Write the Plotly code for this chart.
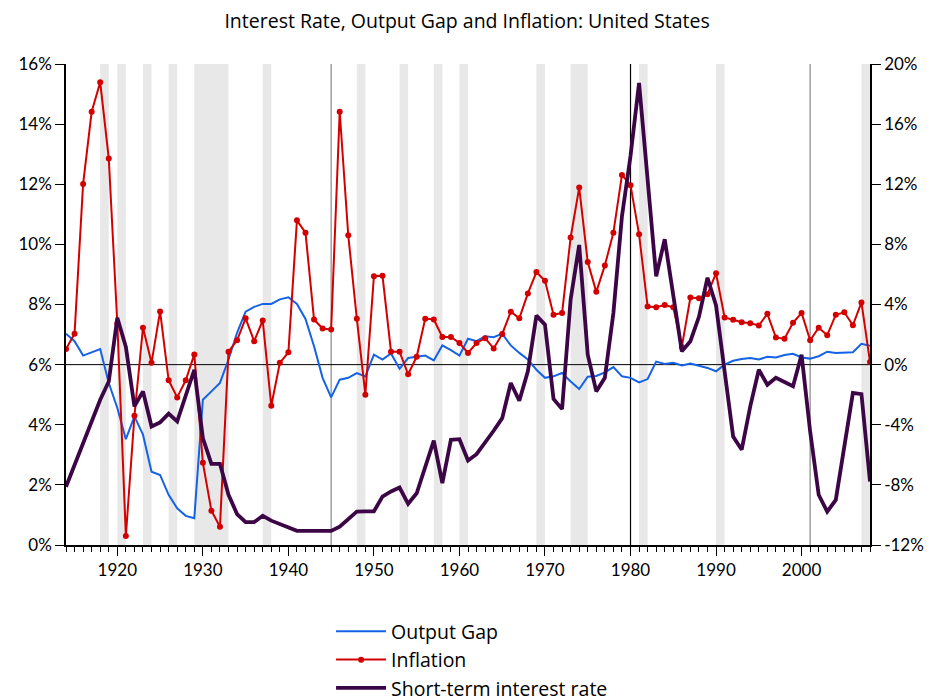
import plotly.graph_objects as go

years = list(range(1914, 2009))

# Output gap (%), right axis
output_gap = [2.06, 1.56, 0.6, 0.82, 1.04, -1.22, -2.88, -4.96, -3.44, -4.66,
              -7.12, -7.34, -8.66, -9.56, -10.06, -10.22, -2.34, -1.78, -1.22, 0.34,
              2.12, 3.52, 3.84, 4.04, 4.04, 4.34, 4.48, 4.04, 3.04, 1.22,
              -0.88, -2.18, -1.0, -0.88, -0.56, -0.78, 0.66, 0.34, 0.74, -0.28,
              0.44, 0.52, 0.6, 0.28, 1.28, 0.96, 0.6, 1.72, 1.56, 1.88,
              1.82, 2.06, 1.28, 0.78, 0.34, -0.34, -0.88, -0.78, -0.56, -1.12,
              -1.62, -0.8, -0.75, -0.52, -0.16, -0.78, -0.88, -1.18, -0.96, 0.2,
              0.04, 0.12, -0.06, 0.08, -0.06, -0.22, -0.44, 0.0, 0.26, 0.38,
              0.44, 0.34, 0.52, 0.48, 0.64, 0.72, 0.48, 0.4, 0.56, 0.86,
              0.78, 0.78, 0.82, 1.38, 1.26]

# Inflation (%), right axis
inflation = [1.04, 2.06, 12.02, 16.82, 18.78, 13.72, 2.74, -11.4, -3.4, 2.46,
             0.12, 3.54, -1.04, -2.18, -1.04, 0.68, -6.52, -9.72, -10.78, 0.86,
             1.62, 3.08, 1.56, 2.94, -2.74, 0.12, 0.82, 9.6, 8.78, 3.0,
             2.4, 2.34, 16.82, 8.6, 3.06, -2.0, 5.88, 5.92, 0.86, 0.86,
             -0.64, 0.52, 3.06, 3.0, 1.84, 1.84, 1.44, 0.78, 1.44, 1.76,
             1.08, 2.04, 3.52, 3.08, 4.74, 6.16, 5.58, 3.32, 3.44, 8.46,
             11.78, 6.82, 4.84, 6.6, 8.78, 12.62, 11.94, 8.68, 3.86, 3.82,
             3.96, 3.82, 1.18, 4.46, 4.42, 4.68, 6.08, 3.14, 2.98, 2.82,
             2.76, 2.6, 3.38, 1.8, 1.72, 2.78, 3.44, 1.62, 2.46, 1.96,
             3.32, 3.48, 2.62, 4.14, 0.18]

# Short-term interest rate (%), left axis
interest_rate = [1.94, 2.67, 3.39, 4.11, 4.83, 5.44, 7.56, 6.59, 4.61, 5.11,
                 3.94, 4.08, 4.37, 4.11, 4.94, 5.83, 3.56, 2.7, 2.7, 1.67,
                 1.03, 0.76, 0.76, 0.97, 0.81, 0.69, 0.58, 0.47, 0.47, 0.47,
                 0.47, 0.47, 0.61, 0.86, 1.11, 1.12, 1.12, 1.61, 1.78, 1.91,
                 1.37, 1.72, 2.59, 3.47, 2.06, 3.5, 3.52, 2.81, 3.02, 3.39,
                 3.8, 4.22, 5.39, 4.8, 5.78, 7.63, 7.33, 4.86, 4.52, 8.17,
                 9.98, 6.33, 5.11, 5.56, 7.72, 10.94, 12.94, 15.37, 12.22, 8.94,
                 10.17, 8.31, 6.44, 6.78, 7.59, 8.89, 7.97, 5.78, 3.61, 3.17,
                 4.61, 5.83, 5.33, 5.56, 5.41, 5.28, 6.33, 3.78, 1.67, 1.11,
                 1.5, 3.28, 5.06, 5.02, 2.11]

recessions = [(1918, 1919), (1920, 1921), (1923, 1924), (1926, 1927), (1929, 1933),
              (1937, 1938), (1948, 1949), (1953, 1954), (1957, 1958), (1960, 1961),
              (1969, 1970), (1973, 1975), (1981, 1982), (1990, 1991), (2007, 2008)]
markers_years = [1945, 1980, 2001]
marker_colors = ["#888888", "#000000", "#888888"]

right_ticks = list(range(-12, 21, 4))
left_ticks = list(range(0, 17, 2))

TICKFONT = "Lato, 'Open Sans', sans-serif"
TEXTFONT = "'Open Sans', Lato, sans-serif"

fig = go.Figure()
fig.add_trace(go.Scatter(x=years, y=output_gap, name="Output Gap", mode="lines",
                         line=dict(color="#1462e6", width=2), yaxis="y"))
fig.add_trace(go.Scatter(x=years, y=inflation, name="Inflation", mode="lines+markers",
                         line=dict(color="#d40000", width=2),
                         marker=dict(color="#d40000", size=6), yaxis="y"))
fig.add_trace(go.Scatter(x=years, y=interest_rate, name="Short-term interest rate", mode="lines",
                         line=dict(color="#3c0646", width=3.8), yaxis="y2"))

shapes = []
for a, b in recessions:
    shapes.append(dict(type="rect", xref="x", yref="paper", x0=a, x1=b, y0=0, y1=1,
                       fillcolor="#e8e8e8", line=dict(width=0), layer="below"))
for yr, c in zip(markers_years, marker_colors):
    shapes.append(dict(type="line", xref="x", yref="paper", x0=yr, x1=yr, y0=0, y1=1,
                       line=dict(color=c, width=1.2), layer="below"))
shapes.append(dict(type="line", xref="paper", yref="y", x0=0, x1=1, y0=0, y1=0,
                   line=dict(color="black", width=1), layer="below"))

fig.update_layout(
    width=935, height=700,
    margin=dict(l=58, r=73, t=56, b=163, autoexpand=False),
    paper_bgcolor="white", plot_bgcolor="white",
    font=dict(family=TICKFONT, size=17, color="black"),
    title=dict(text="Interest Rate, Output Gap and Inflation: United States",
               x=0.491, xanchor="center", xref="container", y=0.981, yanchor="middle",
               font=dict(family=TEXTFONT, size=19.5, color="black")),
    shapes=shapes,
    showlegend=True,
    legend=dict(x=0.3455, xanchor="left", xref="container",
                y=0.137, yanchor="top", yref="container",
                font=dict(family=TEXTFONT, size=19.5), itemwidth=50,
                bgcolor="rgba(0,0,0,0)", traceorder="normal"),
    xaxis=dict(range=[1914, 2008], tick0=1920, dtick=10, showgrid=False, zeroline=False,
               automargin=False,
               showline=True, linecolor="black", linewidth=1.5, ticks="outside",
               ticklen=9, tickcolor="black", tickfont=dict(size=17),
               minor=dict(dtick=1, tick0=1914, ticks="outside", ticklen=5, tickcolor="black",
                          showgrid=False)),
    yaxis=dict(range=[-12, 20], tickvals=right_ticks, automargin=False,
               ticktext=[f"{v}%" for v in right_ticks], side="right",
               showgrid=False, zeroline=False, showline=True, linecolor="black",
               linewidth=1.5, ticks="outside", ticklen=9, tickcolor="black",
               tickfont=dict(size=17)),
    yaxis2=dict(range=[0, 16], tickvals=left_ticks, automargin=False,
                ticktext=[f"{v}%" for v in left_ticks], side="left", overlaying="y",
                showgrid=False, zeroline=False, showline=True, linecolor="black",
                linewidth=1.5, ticks="outside", ticklen=9, tickcolor="black",
                tickfont=dict(size=17)),
)

fig.write_html("out.html")
